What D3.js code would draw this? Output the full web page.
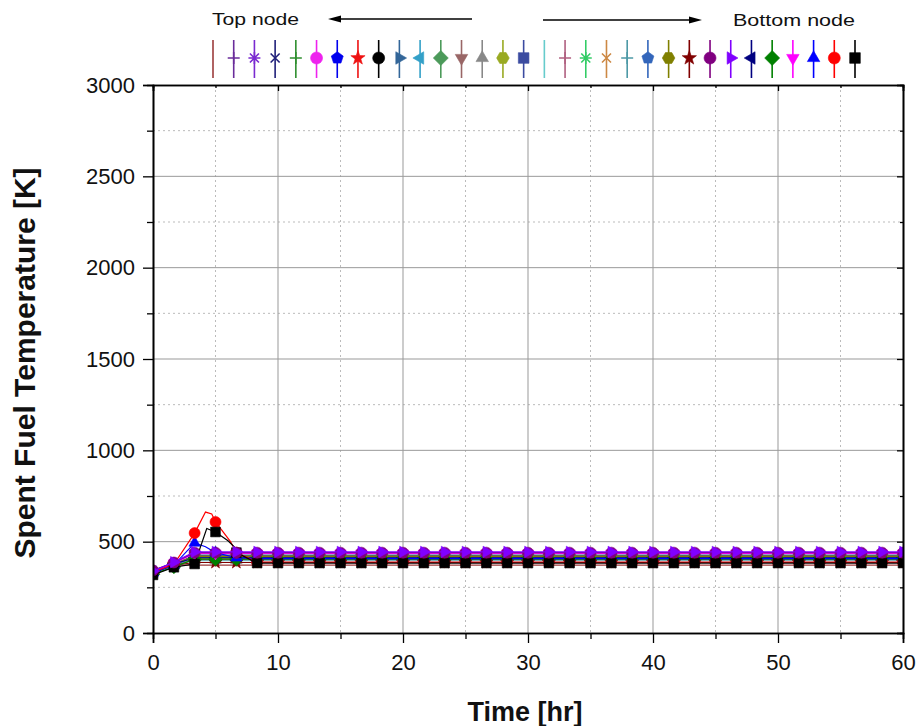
<!DOCTYPE html>
<html>
<head>
<meta charset="utf-8">
<script src="https://cdn.jsdelivr.net/npm/d3@7"></script>
<style>
body { margin: 0; background: #fff; }
text { font-family: Arial, "Liberation Sans", sans-serif; fill: #111; }
</style>
</head>
<body>
<div id="chart"></div>
<script>

// time of every stored point that carries a symbol [hr]
var times = [0, 1.67, 3.33, 5, 6.67, 8.33, 10, 11.67, 13.33, 15, 16.67, 18.33, 20,
	21.67, 23.33, 25, 26.67, 28.33, 30, 31.67, 33.33, 35, 36.67, 38.33, 40,
	41.67, 43.33, 45, 46.67, 48.33, 50, 51.67, 53.33, 55, 56.67, 58.33, 60];

// 32 nodes, top node first (legend order)
var nodeColors = ["#9c3c3c", "#6a2c9a", "#7a2ad0", "#20207a", "#2f8f2f", "#ee22ee", "#0000ee", "#ee1111",
	"#000000", "#336699", "#33a0c8", "#4c9a5a", "#996666", "#888888", "#99aa22", "#3b4ba0",
	"#66cccc", "#b06080", "#33cc66", "#cc8844", "#4d99a6", "#3366bb", "#808000", "#800000",
	"#800080", "#8000ff", "#000080", "#008000", "#ff00ff", "#0000ff", "#ff0000", "#000000"];

var nodeSymbols = ["none", "plus", "asterisk", "x", "plus", "circle", "pentagon", "star",
	"circle", "right", "left", "diamond", "down", "up", "hexagon", "square",
	"none", "plus", "asterisk", "x", "plus", "pentagon", "hexagon", "star",
	"circle", "right", "left", "diamond", "down", "up", "circle", "square"];

// temperature at t = 0 hr [K]
var tempStart = [345, 340, 338, 335, 333, 340, 336, 332, 330, 334, 337, 331, 329, 333, 335, 330,
	342, 338, 334, 330, 328, 332, 336, 331, 343, 339, 326, 322, 335, 330, 334, 318];

// temperature at t = 1.67 hr [K]
var tempEarly = [372, 385, 382, 378, 375, 383, 380, 376, 374, 377, 379, 373, 371, 375, 378, 372,
	380, 376, 374, 370, 368, 372, 376, 371, 386, 388, 378, 362, 382, 372, 376, 360];

// plateau temperature from t = 3.33 hr on [K]
var tempSteady = [372, 412, 410, 408, 406, 418, 416, 414, 402, 404, 420, 422, 400, 398, 424, 426,
	396, 401, 407, 409, 413, 417, 419, 386, 440, 444, 412, 404, 436, 407, 388, 383];

// early peaks of the three lowest nodes [hr, K]
var blueTransient = [[3.33, 493], [4.2, 472], [5, 440], [6.67, 412]];
var redTransient = [[3.33, 547], [4.2, 662], [4.7, 652], [5, 608], [6.2, 500], [6.67, 440]];
var blackTransient = [[3.33, 378], [4.3, 572], [5, 553], [6, 505], [6.5, 472], [6.67, 440]];
var transients = {29: blueTransient, 30: redTransient, 31: blackTransient};

// plotting order (purple nodes end up on top, as in the original)
var drawOrder = [0, 1, 2, 3, 4, 5, 6, 7, 8, 9, 10, 11, 12, 13, 14, 15, 16, 17, 18, 19, 20, 21, 22, 23,
	26, 27, 28, 29, 30, 31, 24, 25];

var xTicks = [0, 10, 20, 30, 40, 50, 60];
var xMinor = [5, 15, 25, 35, 45, 55];
var yTicks = [0, 500, 1000, 1500, 2000, 2500, 3000];
var yMinor = [250, 750, 1250, 1750, 2250, 2750];


var margin = {top: 85, right: 15, bottom: 93, left: 153};
var fullWidth = 918, fullHeight = 726;
var width = fullWidth - margin.left - margin.right;
var height = fullHeight - margin.top - margin.bottom;

var svg = d3.select("#chart").append("svg")
	.attr("width", fullWidth)
	.attr("height", fullHeight);

var g = svg.append("g")
	.attr("transform", "translate(" + margin.left + "," + margin.top + ")");

var xScale = d3.scaleLinear().domain([0, 60]).range([0, width]);
var yScale = d3.scaleLinear().domain([0, 3000]).range([height, 0]);


// grid: minor dotted, major solid
g.append("g").selectAll("line").data(xMinor).enter().append("line")
	.attr("x1", function(d) { return xScale(d); })
	.attr("x2", function(d) { return xScale(d); })
	.attr("y1", 0).attr("y2", height)
	.style("stroke", "#bbb").style("stroke-dasharray", "2,3");
g.append("g").selectAll("line").data(yMinor).enter().append("line")
	.attr("y1", function(d) { return yScale(d); })
	.attr("y2", function(d) { return yScale(d); })
	.attr("x1", 0).attr("x2", width)
	.style("stroke", "#bbb").style("stroke-dasharray", "2,3");
g.append("g").selectAll("line").data(xTicks.slice(1, -1)).enter().append("line")
	.attr("x1", function(d) { return xScale(d); })
	.attr("x2", function(d) { return xScale(d); })
	.attr("y1", 0).attr("y2", height)
	.style("stroke", "#999");
g.append("g").selectAll("line").data(yTicks.slice(1, -1)).enter().append("line")
	.attr("y1", function(d) { return yScale(d); })
	.attr("y2", function(d) { return yScale(d); })
	.attr("x1", 0).attr("x2", width)
	.style("stroke", "#999");


// symbol shapes
function polygon(n, r, rot) {
	var pts = d3.range(n).map(function(k) {
		var a = rot + k * 2 * Math.PI / n;
		return [r * Math.cos(a), r * Math.sin(a)];
	});
	return "M" + pts.join("L") + "Z";
}

function symbolPath(type, s) {
	var r = s / 2, a = r * 0.75;
	var plus = "M" + (-r) + ",0H" + r + "M0," + (-r) + "V" + r;
	var cross = "M" + (-a) + "," + (-a) + "L" + a + "," + a + "M" + (-a) + "," + a + "L" + a + "," + (-a);
	switch (type) {
		case "plus": return plus;
		case "x": return cross;
		case "asterisk": return plus + cross;
		case "circle": return "M" + r + ",0A" + r + "," + r + " 0 1 1 " + (-r) + ",0A" + r + "," + r + " 0 1 1 " + r + ",0Z";
		case "square": return polygon(4, r * 1.25, Math.PI / 4);
		case "up": return polygon(3, r * 1.2, -Math.PI / 2);
		case "down": return polygon(3, r * 1.2, Math.PI / 2);
		case "left": return polygon(3, r * 1.2, Math.PI);
		case "right": return polygon(3, r * 1.2, 0);
		case "diamond": return polygon(4, r * 1.25, -Math.PI / 2);
		case "pentagon": return polygon(5, r * 1.05, -Math.PI / 2);
		case "hexagon": return polygon(6, r * 1.05, 0);
		case "star":
			var pts = d3.range(10).map(function(k) {
				var rr = k % 2 ? r * 0.5 : r * 1.25;
				var ang = -Math.PI / 2 + k * Math.PI / 5;
				return [rr * Math.cos(ang), rr * Math.sin(ang)];
			});
			return "M" + pts.join("L") + "Z";
	}
	return null;
}

function isOpen(type) {
	return type == "plus" || type == "x" || type == "asterisk";
}


// assemble each node's curve
function buildSeries(i) {
	var pts = times.map(function(t, k) {
		var v = k == 0 ? tempStart[i] : (k == 1 ? tempEarly[i] : tempSteady[i]);
		return {t: t, v: v, mark: true};
	});
	if (transients[i]) {
		transients[i].forEach(function(p) {
			var hit = pts.find(function(q) { return Math.abs(q.t - p[0]) < 0.01; });
			if (hit) hit.v = p[1];
			else pts.push({t: p[0], v: p[1], mark: false});
		});
		pts.sort(function(a, b) { return a.t - b.t; });
	}
	return pts;
}

svg.append("clipPath").attr("id", "plotClip")
	.append("rect").attr("width", width).attr("height", height);

var plot = g.append("g").attr("clip-path", "url(#plotClip)");

var line = d3.line()
	.x(function(d) { return xScale(d.t); })
	.y(function(d) { return yScale(d.v); });

drawOrder.forEach(function(i) {
	var color = nodeColors[i];
	var pts = buildSeries(i);
	var type = nodeSymbols[i];
	var sg = plot.append("g");
	sg.append("path")
		.attr("d", line(pts))
		.style("fill", "none")
		.style("stroke", color)
		.style("stroke-width", 1.2);
	if (type == "none") return;
	sg.selectAll("path.sym")
		.data(pts.filter(function(d) { return d.mark; }))
		.enter().append("path")
		.attr("class", "sym")
		.attr("transform", function(d) { return "translate(" + xScale(d.t) + "," + yScale(d.v) + ")"; })
		.attr("d", symbolPath(type, 11))
		.style("fill", isOpen(type) ? "none" : color)
		.style("stroke", color)
		.style("stroke-width", isOpen(type) ? 1.6 : 0.6);
});


// axes
var xAxis = d3.axisBottom(xScale).tickValues(xTicks).tickSize(10).tickPadding(11).tickFormat(d3.format("d"));
var xAxisMinor = d3.axisBottom(xScale).tickValues(xMinor).tickSize(6).tickFormat("");
var yAxis = d3.axisLeft(yScale).tickValues(yTicks).tickSize(10).tickPadding(8).tickFormat(d3.format("d"));
var yAxisMinor = d3.axisLeft(yScale).tickValues(yMinor).tickSize(6).tickFormat("");

function styleAxis(sel) {
	sel.select(".domain").style("stroke", "#000").style("stroke-width", 1.6);
	sel.selectAll(".tick line").style("stroke", "#000").style("stroke-width", 1.3);
	sel.selectAll("text").style("font-size", "22px").style("fill", "#111")
		.style("font-family", "Arial, 'Liberation Sans', sans-serif");
}

g.append("g").attr("transform", "translate(0," + height + ")").call(xAxisMinor).call(styleAxis);
g.append("g").attr("transform", "translate(0," + height + ")").call(xAxis).call(styleAxis);
g.append("g").call(yAxisMinor).call(styleAxis);
g.append("g").call(yAxis).call(styleAxis);

// top and right frame with inward ticks
g.append("g").call(d3.axisBottom(xScale).tickValues(xTicks).tickSize(6).tickFormat("")).call(styleAxis);
g.append("g").call(d3.axisBottom(xScale).tickValues(xMinor).tickSize(3).tickFormat("")).call(styleAxis);
g.append("g").attr("transform", "translate(" + width + ",0)")
	.call(d3.axisLeft(yScale).tickValues(yTicks).tickSize(6).tickFormat("")).call(styleAxis);
g.append("g").attr("transform", "translate(" + width + ",0)")
	.call(d3.axisLeft(yScale).tickValues(yMinor).tickSize(3).tickFormat("")).call(styleAxis);

// axis titles
svg.append("text")
	.attr("x", margin.left + width / 2 - 3)
	.attr("y", 721)
	.style("text-anchor", "middle")
	.style("font-size", "27px")
	.style("font-weight", "bold")
	.text("Time [hr]");

svg.append("text")
	.attr("transform", "translate(35," + 363 + ") rotate(-90)")
	.style("text-anchor", "middle")
	.style("font-size", "30px")
	.style("font-weight", "bold")
	.text("Spent Fuel Temperature [K]");


// legend row along the top
var legendX = d3.scaleLinear().domain([0, 31]).range([213, 855]);

var legend = svg.selectAll(".legend")
	.data(nodeColors)
	.enter().append("g")
	.attr("class", "legend")
	.attr("transform", function(d, i) { return "translate(" + legendX(i) + ",58)"; });

legend.append("line")
	.attr("y1", -18).attr("y2", 20)
	.style("stroke", function(d) { return d; })
	.style("stroke-width", 1.6);

legend.append("path")
	.attr("d", function(d, i) { return symbolPath(nodeSymbols[i], 12); })
	.style("fill", function(d, i) { return isOpen(nodeSymbols[i]) ? "none" : d; })
	.style("stroke", function(d) { return d; })
	.style("stroke-width", function(d, i) { return isOpen(nodeSymbols[i]) ? 1.6 : 0.6; });

// direction hints
svg.append("text").attr("x", 212).attr("y", 25).style("font-size", "17px")
	.attr("textLength", 87).attr("lengthAdjust", "spacingAndGlyphs").text("Top node");
svg.append("text").attr("x", 733).attr("y", 26).style("font-size", "17px")
	.attr("textLength", 122).attr("lengthAdjust", "spacingAndGlyphs").text("Bottom node");

svg.append("line").attr("x1", 338).attr("x2", 472).attr("y1", 19).attr("y2", 19)
	.style("stroke", "#000").style("stroke-width", 1.4);
svg.append("path").attr("d", "M328,19L341,15.5L341,22.5Z").style("fill", "#000");

svg.append("line").attr("x1", 543).attr("x2", 690).attr("y1", 20).attr("y2", 20)
	.style("stroke", "#000").style("stroke-width", 1.4);
svg.append("path").attr("d", "M702,20L689,16.5L689,23.5Z").style("fill", "#000");

</script>
</body>
</html>
